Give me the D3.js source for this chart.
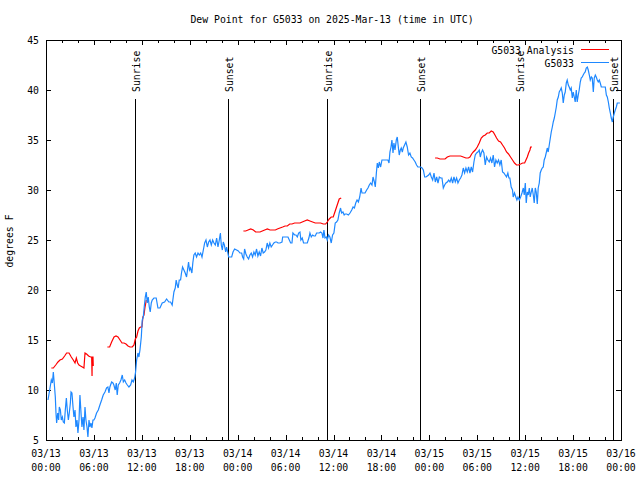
<!DOCTYPE html>
<html><head><meta charset="utf-8">
<script src="https://cdn.jsdelivr.net/npm/d3@7"></script>
<style>
body{margin:0;background:#fff}
text{font-family:"DejaVu Sans Mono","Liberation Mono",monospace;font-size:9.8px;fill:#000}
</style>
</head><body>
<svg id="chart" width="640" height="480"></svg>
<script>
const chartTitle = "Dew Point for G5033 on 2025-Mar-13 (time in UTC)";
const yAxisLabel = "degrees F";
const seriesNames = ["G5033 Analysis", "G5033"];
const seriesColors = ["#ff0000", "#1e88ff"];
const yTicks = [5, 10, 15, 20, 25, 30, 35, 40, 45];
const startUTC = Date.UTC(2025, 2, 13);   // 03/13 00:00 UTC
const endUTC = Date.UTC(2025, 2, 16);     // 03/16 00:00 UTC

// sun events: minutes after 03/13 00:00 UTC
const sunTimes = [671, 1370, 2114, 2812, 3551, 4258];
const sunLabels = ["Sunrise", "Sunset", "Sunrise", "Sunset", "Sunrise", "Sunset"];

// G5033 observations: [minutes after start, deg F]
const g5033 = [
[15,9.0],[30,10.2],[40,11.0],[48,10.7],[55,11.8],[63,10.5],[70,9.3],[75,7.7],[80,6.7],[88,7.7],
[95,7.0],[100,8.3],[108,8.0],[115,7.0],[123,7.3],[130,6.8],[138,6.7],[145,8.0],[153,9.2],[160,8.0],
[168,7.0],[175,7.7],[183,8.7],[188,9.8],[195,9.7],[203,8.3],[210,7.3],[218,8.0],[225,6.3],[233,7.0],
[240,5.7],[248,7.0],[255,9.5],[263,7.7],[270,6.3],[278,7.3],[285,6.0],[293,8.3],[300,7.0],[308,6.3],
[315,5.3],[323,7.0],[330,6.3],[338,6.7],[345,6.2],[353,7.0],[360,7.0],[368,7.2],[380,7.7],[393,8.0],
[405,8.5],[418,9.0],[430,9.5],[443,9.8],[455,10.2],[465,10.3],[473,9.7],[480,10.3],[493,10.8],[503,10.7],
[510,10.5],[520,10.0],[528,10.7],[535,9.5],[543,10.5],[553,10.7],[563,11.0],[573,11.5],[581,10.8],[591,11.0],
[601,10.7],[611,10.5],[623,10.3],[636,10.5],[646,11.0],[656,10.8],[666,11.2],[673,11.8],[681,13.0],[691,13.7],
[698,13.3],[706,14.0],[716,15.3],[723,17.0],[731,17.3],[738,18.3],[746,19.3],[753,19.8],[761,18.7],[768,19.3],
[776,18.3],[783,17.8],[791,18.7],[798,19.0],[811,19.2],[828,19.2],[841,18.2],[856,18.2],[873,18.7],[891,18.8],
[906,19.1],[923,18.8],[936,18.8],[948,18.5],[961,19.8],[971,20.2],[978,21.0],[986,20.5],[993,20.2],[1001,21.0],
[1011,21.0],[1018,21.7],[1026,22.3],[1036,22.0],[1046,21.7],[1056,21.3],[1063,22.0],[1071,22.8],[1078,22.0],[1086,22.2],
[1096,21.7],[1103,22.7],[1111,23.5],[1121,23.7],[1131,23.3],[1142,23.7],[1152,23.5],[1162,23.7],[1172,23.3],[1182,24.0],
[1192,24.7],[1202,25.0],[1212,24.3],[1222,24.8],[1232,25.0],[1242,24.5],[1252,25.0],[1262,24.7],[1272,24.5],[1282,25.2],
[1292,24.3],[1302,25.0],[1310,25.7],[1317,24.5],[1325,24.0],[1332,24.8],[1340,24.5],[1350,23.8],[1357,24.3],[1365,23.8],
[1372,23.3],[1382,23.3],[1395,23.3],[1405,23.8],[1417,24.1],[1432,24.0],[1445,23.9],[1457,23.7],[1470,23.7],[1477,23.3],
[1485,23.1],[1492,24.1],[1502,23.6],[1512,23.3],[1522,23.1],[1532,23.5],[1542,23.7],[1552,23.3],[1562,23.8],[1572,23.5],
[1582,24.1],[1592,23.4],[1602,23.8],[1612,23.4],[1622,24.2],[1632,23.7],[1642,23.8],[1652,24.0],[1662,24.7],[1672,24.2],
[1682,24.7],[1692,24.3],[1702,24.5],[1712,24.7],[1723,24.8],[1733,24.8],[1743,24.7],[1758,24.7],[1773,24.8],[1778,25.3],
[1788,25.3],[1803,25.3],[1818,25.3],[1828,25.0],[1838,24.7],[1848,24.7],[1855,25.7],[1868,25.5],[1878,25.5],[1888,25.3],
[1898,25.7],[1908,25.8],[1915,25.0],[1925,25.2],[1935,24.7],[1950,24.7],[1963,24.7],[1975,25.2],[1983,25.7],[1993,25.3],
[2003,25.5],[2013,25.4],[2023,25.4],[2033,25.7],[2043,25.7],[2053,25.7],[2063,25.8],[2073,25.7],[2081,25.2],[2088,26.0],
[2096,25.2],[2106,25.3],[2113,25.0],[2123,25.5],[2133,25.3],[2143,24.7],[2153,25.5],[2163,25.7],[2173,26.7],[2183,26.8],
[2193,27.0],[2203,27.7],[2213,28.2],[2221,27.7],[2231,27.8],[2240,27.5],[2247,27.6],[2259,27.6],[2272,27.5],[2284,27.7],
[2297,28.0],[2307,28.3],[2317,28.2],[2327,28.7],[2337,29.0],[2347,28.8],[2357,29.3],[2367,30.2],[2374,29.7],[2384,29.7],
[2397,29.7],[2409,30.0],[2419,30.2],[2429,30.5],[2439,30.7],[2449,30.5],[2457,31.3],[2467,30.8],[2474,30.3],[2482,31.7],
[2489,32.7],[2497,32.2],[2504,32.8],[2514,32.3],[2524,33.0],[2539,33.0],[2554,33.0],[2569,33.0],[2577,32.7],[2584,33.8],
[2592,34.3],[2599,35.0],[2607,33.7],[2614,34.7],[2622,34.0],[2632,35.0],[2639,35.3],[2647,34.3],[2654,33.5],[2662,34.0],
[2669,34.2],[2677,33.8],[2684,34.2],[2694,34.5],[2704,34.8],[2714,34.3],[2724,33.5],[2734,33.7],[2744,33.3],[2754,33.2],
[2764,33.0],[2774,32.8],[2784,32.5],[2794,32.3],[2804,32.3],[2815,32.3],[2825,32.2],[2835,32.0],[2845,31.3],[2855,31.3],
[2865,31.4],[2875,31.5],[2885,31.7],[2895,31.3],[2905,31.0],[2915,31.7],[2925,30.8],[2935,31.3],[2945,30.7],[2955,31.3],
[2965,31.2],[2975,31.2],[2985,30.2],[2995,30.5],[3005,30.7],[3015,30.8],[3025,31.0],[3035,30.8],[3045,31.2],[3055,30.7],
[3065,31.3],[3075,30.8],[3085,31.2],[3095,30.7],[3105,31.0],[3115,31.2],[3125,31.5],[3135,32.2],[3145,31.7],[3155,32.2],
[3165,31.8],[3175,32.3],[3185,31.7],[3195,32.3],[3205,31.8],[3215,32.8],[3225,33.5],[3235,33.7],[3245,33.8],[3255,34.0],
[3263,33.3],[3270,33.7],[3280,34.0],[3290,33.7],[3300,32.5],[3310,33.3],[3320,33.0],[3330,32.8],[3340,33.2],[3350,32.7],
[3360,33.5],[3370,32.3],[3380,33.0],[3390,32.7],[3400,33.0],[3410,32.5],[3420,33.0],[3430,31.8],[3440,31.7],[3450,31.5],
[3460,31.3],[3470,31.7],[3478,31.2],[3485,31.2],[3495,30.3],[3505,30.0],[3510,29.3],[3520,29.7],[3530,29.3],[3538,29.0],
[3546,29.3],[3556,29.0],[3566,29.3],[3576,29.7],[3586,30.2],[3593,29.5],[3601,30.7],[3608,28.7],[3616,29.8],[3623,29.5],
[3631,30.2],[3638,29.3],[3646,29.8],[3653,30.2],[3661,29.5],[3668,28.7],[3676,30.2],[3683,29.8],[3691,28.6],[3698,30.2],
[3706,30.7],[3713,31.7],[3721,32.0],[3728,32.2],[3736,32.3],[3743,33.0],[3751,33.3],[3758,33.7],[3766,34.2],[3773,33.8],
[3781,34.5],[3789,35.2],[3796,35.8],[3804,36.3],[3811,36.8],[3819,37.2],[3826,37.7],[3834,38.3],[3841,39.0],[3849,39.3],
[3856,39.8],[3864,40.0],[3871,40.2],[3879,39.7],[3886,38.7],[3894,39.5],[3901,39.8],[3909,40.7],[3916,41.0],[3924,40.5],
[3931,40.3],[3939,40.0],[3946,40.2],[3954,39.2],[3961,39.8],[3969,39.3],[3976,38.8],[3984,40.0],[3991,38.8],[3999,39.5],
[4006,40.0],[4014,40.8],[4021,41.2],[4029,41.3],[4036,41.5],[4044,41.7],[4051,41.8],[4059,42.2],[4067,42.3],[4074,42.0],
[4082,41.5],[4089,41.0],[4097,41.3],[4104,41.2],[4112,39.8],[4119,41.2],[4127,41.5],[4134,41.3],[4142,41.0],[4149,40.8],
[4157,41.0],[4164,40.7],[4172,40.3],[4182,40.3],[4195,40.3],[4202,40.3],[4210,39.5],[4217,39.3],[4225,38.8],[4232,38.2],
[4240,37.7],[4247,37.2],[4255,36.8],[4262,37.3],[4270,37.7],[4277,38.0],[4285,38.3],[4292,38.7],[4302,38.7],[4312,38.7]
];

// G5033 Analysis, in separate runs (gaps between them)
const analysisRun1 = [
[40,12.2],[55,12.2],[73,12.5],[90,12.8],[105,13.0],[123,13.1],[140,13.4],[155,13.7],[173,13.7],[190,13.3],
[205,13.0],[218,12.7],[228,13.2],[238,12.7],[248,12.5],[260,12.4],[273,12.3],[285,12.2],[293,13.7],[305,13.6],
[320,13.4],[335,13.3],[343,13.3],[346,11.4],[347,13.3],[353,13.3],[355,12.4]
];
const analysisRun2 = [
[461,14.3],[478,14.3],[493,14.8],[511,15.3],[526,15.4],[541,15.3],[556,15.0],[571,14.7],[586,14.7],[601,14.6],
[616,14.4],[631,14.3],[648,14.3],[661,14.5],[671,15.1],[681,15.3],[691,15.9],[701,16.2],[711,16.3],[721,16.3],
[728,17.3],[736,17.5],[743,18.2],[751,18.8],[753,19.0]
];
const analysisRun3 = [
[1483,25.9],[1500,25.9],[1518,26.0],[1538,26.1],[1558,26.0],[1575,25.8],[1593,25.8],[1608,25.8],[1625,25.9],[1643,26.0],
[1663,26.1],[1683,26.0],[1703,26.0],[1723,26.0],[1738,26.1],[1758,26.2],[1778,26.3],[1796,26.4],[1813,26.4],[1831,26.6],
[1848,26.6],[1868,26.7],[1888,26.7],[1908,26.7],[1925,26.8],[1943,26.9],[1963,27.0],[1983,26.9],[2003,26.8],[2023,26.7],
[2043,26.7],[2063,26.7],[2083,26.6],[2101,26.6],[2113,26.8],[2128,27.1],[2143,27.3],[2158,27.3],[2173,27.9],[2183,28.3],
[2193,28.7],[2203,29.1],[2218,29.2]
];
const analysisRun4 = [
[2923,33.2],[2940,33.2],[2960,33.1],[2980,33.1],[2998,33.1],[3015,33.3],[3035,33.4],[3055,33.4],[3075,33.4],[3095,33.4],
[3115,33.4],[3135,33.3],[3155,33.2],[3173,33.2],[3185,33.3],[3198,33.6],[3210,33.8],[3225,34.0],[3240,34.3],[3255,34.7],
[3270,35.2],[3285,35.4],[3300,35.5],[3315,35.7],[3330,35.7],[3345,35.9],[3360,35.8],[3373,35.5],[3385,35.2],[3400,34.9],
[3415,34.8],[3430,34.5],[3445,34.2],[3460,33.8],[3475,33.6],[3490,33.3],[3505,33.0],[3520,32.7],[3535,32.5],[3550,32.5],
[3566,32.6],[3581,32.7],[3596,32.7],[3606,33.0],[3616,33.3],[3626,33.7],[3636,34.0],[3641,34.3],[3651,34.3]
];
const analysisRuns = [analysisRun1, analysisRun2, analysisRun3, analysisRun4];

// ---------- drawing ----------
const plot = {left: 46, right: 621, top: 40, bottom: 440};
const svg = d3.select("#chart");
const toDate = m => new Date(startUTC + m * 60000);

const x = d3.scaleUtc().domain([new Date(startUTC), new Date(endUTC)]).range([plot.left, plot.right]);
const y = d3.scaleLinear().domain([5, 45]).range([plot.bottom, plot.top]);

const minorTicks = d3.utcHour.every(2).range(new Date(startUTC), new Date(endUTC + 1));
const majorTicks = d3.utcHour.every(6).range(new Date(startUTC), new Date(endUTC + 1));

// title
svg.append("text").attr("x", 332).attr("y", 23).attr("text-anchor", "middle").text(chartTitle);
// y label
svg.append("text").attr("transform", "translate(13,241) rotate(-90)").attr("text-anchor", "middle").text(yAxisLabel);

// axes (gnuplot style inward ticks, mirrored)
const gAx = svg.append("g").attr("shape-rendering", "crispEdges");
gAx.append("g").attr("transform", `translate(0,${plot.bottom})`)
  .call(d3.axisBottom(x).tickValues(minorTicks).tickSizeInner(-3).tickSizeOuter(0).tickFormat(""));
gAx.append("g").attr("transform", `translate(0,${plot.bottom})`)
  .call(d3.axisBottom(x).tickValues(majorTicks).tickSizeInner(-5).tickSizeOuter(0).tickFormat(""));
gAx.append("g").attr("transform", `translate(0,${plot.top})`)
  .call(d3.axisTop(x).tickValues(minorTicks).tickSizeInner(-3).tickSizeOuter(0).tickFormat(""));
gAx.append("g").attr("transform", `translate(0,${plot.top})`)
  .call(d3.axisTop(x).tickValues(majorTicks).tickSizeInner(-5).tickSizeOuter(0).tickFormat(""));
gAx.append("g").attr("transform", `translate(${plot.left},0)`)
  .call(d3.axisLeft(y).tickValues(yTicks).tickSizeInner(-5).tickSizeOuter(0).tickPadding(7).tickFormat(d3.format("d")));
gAx.append("g").attr("transform", `translate(${plot.right},0)`)
  .call(d3.axisRight(y).tickValues(yTicks).tickSizeInner(-5).tickSizeOuter(0).tickFormat(""));
gAx.selectAll(".domain").remove();
gAx.selectAll("line").attr("stroke", "#000");
gAx.selectAll("text").attr("font-family", null).attr("font-size", null).attr("fill", "#000");
svg.selectAll("g text").style("font-family", '"DejaVu Sans Mono","Liberation Mono",monospace').style("font-size", "9.8px");

// x tick labels, two lines
const fmtDay = d3.utcFormat("%m/%d"), fmtTime = d3.utcFormat("%H:%M");
const xl = svg.append("g").selectAll("text").data(majorTicks).join("text")
  .attr("text-anchor", "middle").attr("x", d => x(d));
xl.append("tspan").attr("x", d => x(d)).attr("y", 457).text(d => fmtDay(d));
xl.append("tspan").attr("x", d => x(d)).attr("y", 471).text(d => fmtTime(d));

// border
svg.append("rect").attr("x", plot.left + 0.5).attr("y", plot.top + 0.5)
  .attr("width", plot.right - plot.left).attr("height", plot.bottom - plot.top)
  .attr("fill", "none").attr("stroke", "#000").attr("shape-rendering", "crispEdges");

// sunrise / sunset markers
const sun = svg.append("g");
sun.selectAll("line").data(sunTimes).join("line")
  .attr("x1", d => Math.round(x(toDate(d))) + 0.5).attr("x2", d => Math.round(x(toDate(d))) + 0.5)
  .attr("y1", 99).attr("y2", plot.bottom)
  .attr("stroke", "#000").attr("stroke-width", 1.2).attr("shape-rendering", "crispEdges");
sun.selectAll("text").data(sunTimes).join("text")
  .attr("transform", d => `translate(${Math.round(x(toDate(d))) + 4.5},92) rotate(-90)`)
  .attr("text-anchor", "start").text((d, i) => sunLabels[i]);

// data lines
const line = d3.line().x(d => x(toDate(d[0]))).y(d => y(d[1]));
const gData = svg.append("g");
analysisRuns.forEach(run => {
  gData.append("path").datum(run).attr("d", line)
    .attr("fill", "none").attr("stroke", seriesColors[0]).attr("stroke-width", 1.2);
});
gData.append("path").datum(g5033).attr("d", line)
  .attr("fill", "none").attr("stroke", seriesColors[1]).attr("stroke-width", 1.2);

// legend
const legend = svg.append("g");
const legendRows = [{y: 54, ly: 49.5}, {y: 66.5, ly: 62.5}];
seriesNames.forEach((name, i) => {
  legend.append("text").attr("x", 574).attr("y", legendRows[i].y).attr("text-anchor", "end").text(name);
  legend.append("line").attr("x1", 581).attr("x2", 609).attr("y1", legendRows[i].ly).attr("y2", legendRows[i].ly)
    .attr("stroke", seriesColors[i]).attr("stroke-width", 1).attr("shape-rendering", "crispEdges");
});
</script>
</body></html>
